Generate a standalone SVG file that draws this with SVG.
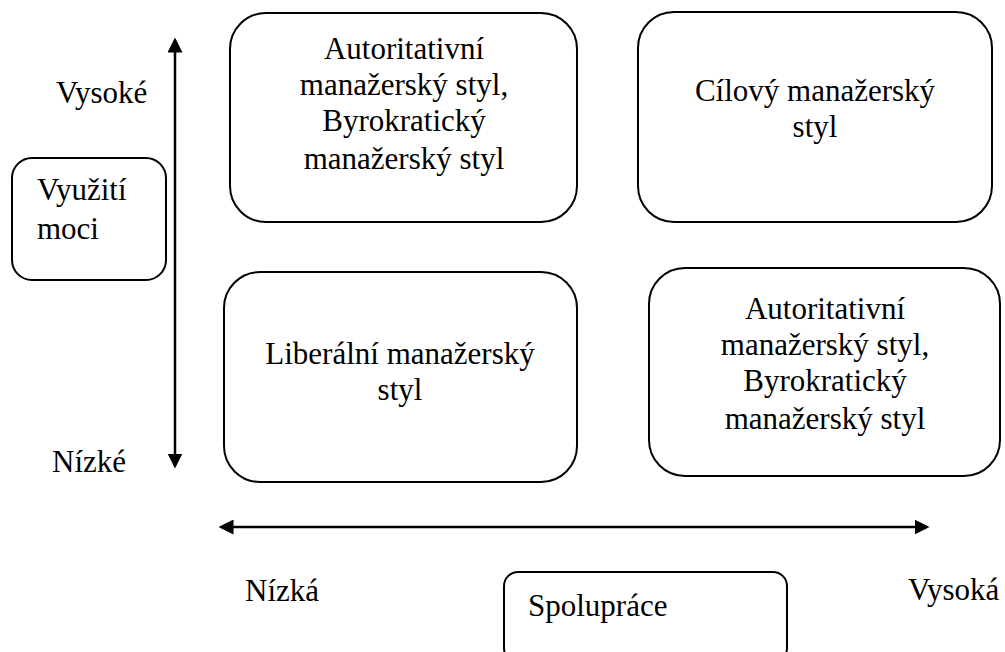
<svg xmlns="http://www.w3.org/2000/svg" width="1005" height="652" viewBox="0 0 1005 652">
<style>
.box{fill:#fff;stroke:#000;stroke-width:2}
.t{font-family:"Liberation Serif","Times New Roman",serif;font-size:31px;fill:#000}
.c{text-anchor:middle}
.ax{stroke:#000;stroke-width:2.5;fill:none}
</style>
<defs>
<marker id="ah" markerWidth="6" markerHeight="6" refX="5" refY="3" orient="auto-start-reverse" markerUnits="strokeWidth">
<path d="M0,0 L6,3 L0,6 Z" fill="#000"/>
</marker>
</defs>
<rect width="1005" height="652" fill="#fff"/>
<g id="connectors">
<line class="ax" x1="175" y1="466" x2="175" y2="40" marker-end="url(#ah)" marker-start="url(#ah)"/>
<line class="ax" x1="221" y1="527" x2="927" y2="527" marker-end="url(#ah)" marker-start="url(#ah)"/>
</g>
<g id="label-vysoke"><text class="t" x="56" y="103">Vysoké</text></g>
<g id="label-nizke"><text class="t" x="52" y="472">Nízké</text></g>
<g id="label-nizka"><text class="t" x="245" y="601">Nízká</text></g>
<g id="label-vysoka"><text class="t" x="908" y="600">Vysoká</text></g>
<g id="node-vyuziti">
<rect class="box" x="12" y="158" width="154" height="122" rx="20"/>
<text class="t" x="37" y="200">Využití</text>
<text class="t" x="37" y="239">moci</text>
</g>
<g id="node-tl">
<rect class="box" x="230" y="13" width="347" height="209" rx="36"/>
<text class="t c" x="404" y="59">Autoritativní</text>
<text class="t c" x="404" y="95">manažerský styl,</text>
<text class="t c" x="404" y="131">Byrokratický</text>
<text class="t c" x="404" y="169">manažerský styl</text>
</g>
<g id="node-tr">
<rect class="box" x="638" y="12" width="354" height="210" rx="36"/>
<text class="t c" x="815" y="101">Cílový manažerský</text>
<text class="t c" x="815" y="137">styl</text>
</g>
<g id="node-bl">
<rect class="box" x="224" y="272" width="353" height="210" rx="36"/>
<text class="t c" x="400" y="364">Liberální manažerský</text>
<text class="t c" x="400" y="400">styl</text>
</g>
<g id="node-br">
<rect class="box" x="649" y="268" width="351" height="208" rx="36"/>
<text class="t c" x="825" y="319">Autoritativní</text>
<text class="t c" x="825" y="355">manažerský styl,</text>
<text class="t c" x="825" y="391">Byrokratický</text>
<text class="t c" x="825" y="429">manažerský styl</text>
</g>
<g id="node-spoluprace">
<rect class="box" x="504" y="572" width="283" height="90" rx="14"/>
<text class="t" x="528" y="616">Spolupráce</text>
</g>
</svg>
